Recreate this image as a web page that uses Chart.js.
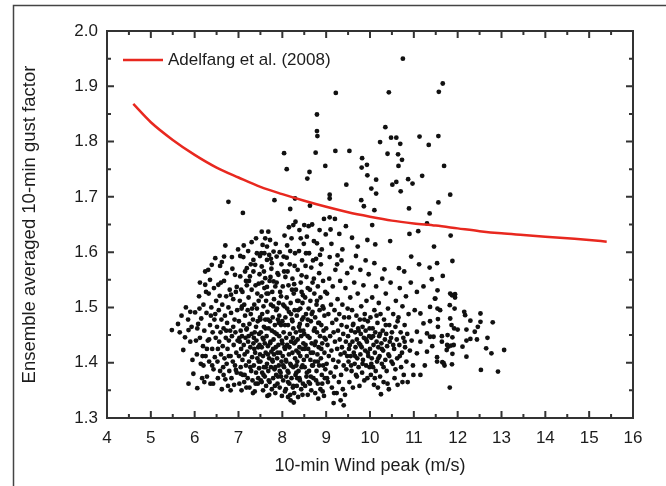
<!DOCTYPE html>
<html>
<head>
<meta charset="utf-8">
<script src="https://cdn.jsdelivr.net/npm/chart.js@4.4.0/dist/chart.umd.min.js"></script>
<style>
html, body { margin: 0; padding: 0; background: #fff; }
</style>
</head>
<body>
<canvas id="gust-chart" width="666" height="486"></canvas>
<script>
// axis ranges
var xMin = 4, xMax = 16
var yMin = 1.3, yMax = 2.0

// Adelfang et al. (2008) curve
var adelfangWind = [4.6, 5.0, 5.5, 6.0, 6.5, 7.0, 7.5, 8.0, 8.5, 9.0, 9.5, 10.0, 10.5, 11.0, 11.5, 12.0, 12.5, 13.0, 13.5, 14.0, 14.5, 15.0, 15.4]
var adelfangGust = [1.868, 1.835, 1.803, 1.776, 1.753, 1.735, 1.718, 1.705, 1.693, 1.682, 1.672, 1.664, 1.657, 1.652, 1.648, 1.643, 1.638, 1.634, 1.631, 1.628, 1.625, 1.622, 1.619]

// measured ensemble points [10-min wind peak, gust factor]
var ensemblePoints = [
    // 5.4 - 6.0
    [5.48,1.459],[5.74,1.423],[5.80,1.500],[5.90,1.492],[5.86,1.459],[5.86,1.362],[5.90,1.438],[5.62,1.470],[5.70,1.485],[5.95,1.405],[5.78,1.446],[5.93,1.465],[5.66,1.455],[5.97,1.380],[5.85,1.478],
    // 6.0 - 6.5
    [6.06,1.354],[6.01,1.491],[6.24,1.565],[6.31,1.568],[6.39,1.577],[6.47,1.589],[6.24,1.541],[6.05,1.415],[6.08,1.470],[6.10,1.520],[6.12,1.445],[6.14,1.398],[6.15,1.480],[6.17,1.372],[6.19,1.430],[6.20,1.505],[6.22,1.458],[6.25,1.412],[6.27,1.490],[6.28,1.375],[6.30,1.440],[6.32,1.525],[6.33,1.402],[6.35,1.468],[6.36,1.362],[6.38,1.500],[6.40,1.425],[6.41,1.455],[6.43,1.388],[6.44,1.535],[6.45,1.478],[6.46,1.410],[6.48,1.445],[6.49,1.512],[6.12,1.545],[6.20,1.395],[6.35,1.550],[6.28,1.425],[6.42,1.362],[6.03,1.440],
    [6.11,1.498],[6.18,1.412],[6.26,1.528],[6.33,1.442],[6.40,1.395],[6.47,1.488],[6.06,1.462],[6.22,1.365],[6.37,1.485],
    // 6.5 - 7.0
    [6.54,1.541],[6.67,1.592],[6.73,1.562],[6.85,1.591],[6.92,1.559],[6.96,1.537],[6.77,1.691],[6.51,1.465],[6.52,1.402],[6.53,1.372],[6.55,1.495],[6.56,1.438],[6.57,1.521],[6.58,1.385],[6.59,1.455],[6.60,1.415],[6.61,1.478],[6.62,1.352],[6.63,1.505],[6.64,1.430],[6.65,1.392],[6.66,1.462],[6.67,1.548],[6.68,1.408],[6.69,1.485],[6.70,1.370],[6.71,1.445],[6.72,1.520],[6.73,1.398],[6.74,1.472],[6.75,1.425],[6.76,1.358],[6.77,1.500],[6.78,1.440],[6.79,1.385],[6.80,1.532],[6.81,1.458],[6.82,1.412],[6.83,1.490],[6.84,1.372],[6.85,1.448],[6.86,1.570],[6.87,1.402],[6.88,1.515],[6.89,1.432],[6.90,1.360],[6.91,1.478],[6.92,1.395],[6.93,1.455],[6.94,1.528],[6.95,1.418],[6.96,1.382],[6.97,1.495],[6.98,1.440],[6.99,1.605],[6.58,1.575],[6.70,1.612],[6.82,1.350],[6.62,1.582],[6.88,1.465],
    [6.53,1.425],[6.60,1.545],[6.66,1.378],[6.72,1.458],[6.78,1.412],[6.83,1.523],[6.94,1.387],
    // 7.0 - 7.5
    [7.10,1.671],[7.04,1.593],[7.11,1.591],[7.34,1.586],[7.49,1.593],[7.42,1.598],[7.04,1.556],[7.19,1.571],[7.38,1.577],[7.34,1.565],[7.26,1.556],[7.46,1.543],[7.19,1.540],
    [7.01,1.412],[7.01,1.475],[7.02,1.362],[7.03,1.438],[7.03,1.512],[7.05,1.392],[7.05,1.458],[7.06,1.425],[7.07,1.498],[7.07,1.350],[7.08,1.448],[7.09,1.528],[7.09,1.405],[7.10,1.378],[7.11,1.468],[7.12,1.432],[7.13,1.505],[7.13,1.365],[7.14,1.415],[7.15,1.485],[7.16,1.445],[7.17,1.395],[7.17,1.548],[7.18,1.460],[7.20,1.420],[7.21,1.372],[7.21,1.495],[7.22,1.438],[7.23,1.518],[7.24,1.402],[7.25,1.470],[7.25,1.355],[7.27,1.428],[7.28,1.488],[7.29,1.385],[7.30,1.452],[7.30,1.532],[7.31,1.410],[7.32,1.368],[7.33,1.478],[7.34,1.435],[7.35,1.395],[7.36,1.505],[7.37,1.455],[7.37,1.348],[7.38,1.418],[7.39,1.540],[7.40,1.382],[7.40,1.465],[7.41,1.440],[7.42,1.498],[7.43,1.408],[7.44,1.362],[7.44,1.475],[7.45,1.428],[7.46,1.512],[7.47,1.390],[7.47,1.452],[7.48,1.560],[7.49,1.415],[7.49,1.482],[7.12,1.612],[7.22,1.602],[7.30,1.618],[7.15,1.565],[7.40,1.625],[7.28,1.578],[7.05,1.380],[7.18,1.355],[7.33,1.345],[7.45,1.372],[7.08,1.502],[7.23,1.448],[7.36,1.425],[7.48,1.432],
    [7.02,1.445],[7.06,1.532],[7.14,1.378],[7.19,1.462],[7.24,1.548],[7.27,1.392],[7.31,1.498],[7.35,1.445],[7.39,1.362],[7.43,1.525],[7.46,1.402],
    // 7.5 - 8.0
    [7.82,1.694],[7.53,1.637],[7.68,1.637],[7.61,1.625],[7.72,1.622],[7.55,1.613],[7.65,1.610],[7.80,1.601],[7.53,1.574],[7.65,1.586],[7.76,1.580],[7.87,1.592],[7.61,1.553],[7.80,1.547],[7.91,1.559],[7.65,1.537],
    [7.50,1.402],[7.51,1.455],[7.51,1.368],[7.52,1.520],[7.53,1.428],[7.54,1.382],[7.54,1.488],[7.55,1.445],[7.56,1.350],[7.56,1.412],[7.57,1.502],[7.58,1.465],[7.58,1.392],[7.59,1.535],[7.60,1.435],[7.60,1.375],[7.61,1.478],[7.62,1.418],[7.63,1.512],[7.63,1.358],[7.64,1.448],[7.65,1.398],[7.66,1.492],[7.66,1.340],[7.67,1.430],[7.68,1.525],[7.68,1.385],[7.69,1.462],[7.70,1.408],[7.71,1.548],[7.71,1.365],[7.72,1.475],[7.73,1.438],[7.74,1.392],[7.74,1.505],[7.75,1.420],[7.76,1.352],[7.76,1.458],[7.77,1.528],[7.78,1.402],[7.78,1.482],[7.79,1.372],[7.80,1.442],[7.81,1.515],[7.81,1.415],[7.82,1.388],[7.83,1.468],[7.84,1.345],[7.84,1.538],[7.85,1.428],[7.86,1.495],[7.86,1.378],[7.87,1.452],[7.88,1.408],[7.89,1.562],[7.89,1.362],[7.90,1.478],[7.91,1.432],[7.92,1.395],[7.92,1.508],[7.93,1.448],[7.94,1.355],[7.95,1.418],[7.95,1.528],[7.96,1.382],[7.97,1.468],[7.98,1.402],[7.98,1.578],[7.99,1.440],[7.99,1.340],[7.52,1.598],[7.58,1.565],[7.70,1.595],[7.75,1.570],[7.85,1.615],[7.94,1.600],[7.62,1.462],[7.70,1.342],[7.79,1.425],[7.88,1.498],[7.97,1.375],[7.57,1.378],[7.67,1.415],[7.83,1.358],[7.93,1.485],[7.54,1.545],[7.73,1.555],[7.90,1.375],
    [7.50,1.478],[7.53,1.365],[7.57,1.442],[7.59,1.598],[7.62,1.392],[7.64,1.525],[7.67,1.478],[7.69,1.368],[7.72,1.435],[7.74,1.588],[7.77,1.405],[7.79,1.502],[7.82,1.455],[7.84,1.392],[7.87,1.545],[7.89,1.418],[7.92,1.472],[7.94,1.385],[7.97,1.520],
    // 8.0 - 8.5
    [8.04,1.779],[8.10,1.750],[8.29,1.697],[8.18,1.678],[8.25,1.649],
    [8.00,1.475],[8.01,1.412],[8.01,1.538],[8.02,1.368],[8.03,1.455],[8.03,1.592],[8.04,1.392],[8.05,1.502],[8.05,1.428],[8.06,1.348],[8.07,1.482],[8.07,1.555],[8.08,1.405],[8.09,1.445],[8.09,1.375],[8.10,1.518],[8.11,1.432],[8.11,1.612],[8.12,1.385],[8.13,1.468],[8.13,1.338],[8.14,1.540],[8.15,1.415],[8.15,1.492],[8.16,1.362],[8.17,1.452],[8.17,1.578],[8.18,1.398],[8.19,1.508],[8.19,1.332],[8.20,1.438],[8.21,1.372],[8.21,1.625],[8.22,1.478],[8.23,1.418],[8.23,1.552],[8.24,1.355],[8.25,1.462],[8.25,1.392],[8.26,1.525],[8.27,1.435],[8.27,1.345],[8.28,1.495],[8.29,1.408],[8.29,1.598],[8.30,1.378],[8.31,1.455],[8.31,1.532],[8.32,1.422],[8.33,1.358],[8.33,1.485],[8.34,1.402],[8.35,1.568],[8.35,1.442],[8.36,1.338],[8.37,1.512],[8.37,1.385],[8.38,1.465],[8.39,1.428],[8.39,1.640],[8.40,1.368],[8.41,1.498],[8.41,1.412],[8.42,1.545],[8.43,1.448],[8.43,1.352],[8.44,1.392],[8.45,1.478],[8.45,1.585],[8.46,1.425],[8.47,1.362],[8.47,1.522],[8.48,1.458],[8.49,1.405],[8.49,1.615],[8.05,1.630],[8.15,1.645],[8.30,1.655],[8.42,1.625],[8.12,1.565],[8.28,1.575],[8.44,1.558],[8.08,1.352],[8.18,1.342],[8.26,1.328],[8.34,1.372],[8.46,1.342],[8.02,1.505],[8.20,1.488],[8.36,1.495],[8.48,1.435],[8.06,1.425],[8.24,1.445],[8.40,1.470],[8.14,1.382],[8.32,1.395],[8.10,1.590],[8.38,1.602],[8.22,1.532],[8.46,1.508],
    [8.00,1.435],[8.02,1.395],[8.04,1.565],[8.06,1.468],[8.09,1.402],[8.11,1.498],[8.13,1.365],[8.16,1.428],[8.18,1.602],[8.20,1.395],[8.23,1.475],[8.25,1.358],[8.27,1.542],[8.30,1.438],[8.32,1.382],[8.34,1.512],[8.37,1.418],[8.39,1.372],[8.41,1.458],[8.44,1.528],[8.46,1.395],[8.48,1.482],
    // 8.5 - 9.0
    [8.62,1.745],[8.57,1.733],[8.76,1.780],[8.98,1.756],[8.79,1.849],[8.79,1.819],[8.80,1.810],[8.63,1.684],[8.50,1.649],[8.60,1.647],[8.79,1.616],
    [8.50,1.452],[8.51,1.392],[8.52,1.518],[8.52,1.358],[8.53,1.432],[8.54,1.488],[8.55,1.375],[8.55,1.555],[8.56,1.412],[8.57,1.468],[8.58,1.342],[8.58,1.535],[8.59,1.425],[8.60,1.498],[8.61,1.385],[8.61,1.598],[8.62,1.445],[8.63,1.362],[8.64,1.512],[8.64,1.405],[8.65,1.475],[8.66,1.572],[8.66,1.350],[8.67,1.435],[8.68,1.395],[8.69,1.492],[8.69,1.545],[8.70,1.418],[8.71,1.372],[8.72,1.458],[8.72,1.620],[8.73,1.525],[8.74,1.402],[8.75,1.345],[8.75,1.482],[8.76,1.438],[8.77,1.588],[8.78,1.385],[8.78,1.505],[8.79,1.455],[8.80,1.415],[8.81,1.362],[8.81,1.538],[8.82,1.472],[8.83,1.428],[8.84,1.395],[8.84,1.562],[8.85,1.495],[8.86,1.448],[8.87,1.352],[8.87,1.518],[8.88,1.408],[8.89,1.468],[8.90,1.378],[8.90,1.605],[8.91,1.435],[8.92,1.502],[8.93,1.395],[8.93,1.548],[8.94,1.458],[8.95,1.340],[8.96,1.418],[8.96,1.485],[8.97,1.372],[8.98,1.528],[8.99,1.442],[8.99,1.632],[8.56,1.628],[8.68,1.650],[8.85,1.640],[8.95,1.660],[8.54,1.598],[8.70,1.585],[8.88,1.578],[8.65,1.375],[8.82,1.335],[8.92,1.348],[8.58,1.478],[8.74,1.462],
    [8.51,1.425],[8.53,1.575],[8.56,1.382],[8.58,1.448],[8.60,1.365],[8.63,1.532],[8.65,1.418],[8.67,1.488],[8.70,1.395],[8.72,1.552],[8.74,1.432],[8.77,1.368],[8.79,1.512],[8.81,1.402],[8.84,1.472],[8.86,1.595],[8.89,1.425],[8.91,1.362],[8.94,1.498],[8.96,1.445],[8.98,1.388],
    // 9.0 - 9.5
    [9.21,1.783],[9.22,1.888],[9.08,1.704],[9.08,1.697],[9.08,1.663],[9.20,1.660],[9.46,1.722],[9.45,1.647],[9.10,1.641],[9.30,1.633],[9.37,1.605],[9.26,1.594],[9.08,1.591],[9.17,1.327],[9.40,1.323],
    [9.00,1.462],[9.01,1.398],[9.02,1.525],[9.03,1.432],[9.04,1.365],[9.05,1.488],[9.06,1.412],[9.07,1.552],[9.09,1.448],[9.10,1.382],[9.11,1.505],[9.12,1.422],[9.13,1.355],[9.14,1.472],[9.15,1.538],[9.16,1.405],[9.17,1.455],[9.18,1.375],[9.19,1.495],[9.20,1.438],[9.21,1.568],[9.22,1.392],[9.23,1.478],[9.24,1.345],[9.25,1.425],[9.26,1.515],[9.27,1.458],[9.28,1.402],[9.29,1.365],[9.30,1.488],[9.31,1.442],[9.32,1.548],[9.33,1.415],[9.34,1.378],[9.35,1.468],[9.36,1.428],[9.37,1.505],[9.38,1.352],[9.39,1.452],[9.40,1.395],[9.41,1.482],[9.42,1.418],[9.43,1.342],[9.44,1.535],[9.45,1.438],[9.46,1.388],[9.47,1.465],[9.48,1.412],[9.49,1.498],[9.12,1.615],[9.25,1.578],[9.35,1.585],[9.48,1.562],[9.18,1.345],[9.33,1.332],[9.02,1.372],
    // 9.5 - 10.0
    [9.53,1.783],[9.82,1.770],[9.93,1.758],[9.81,1.753],[9.94,1.739],[9.80,1.694],[9.86,1.683],[9.59,1.626],[9.94,1.622],[9.72,1.610],[9.68,1.593],
    [9.50,1.448],[9.51,1.402],[9.52,1.482],[9.53,1.365],[9.54,1.432],[9.55,1.518],[9.56,1.412],[9.57,1.458],[9.58,1.385],[9.59,1.495],[9.60,1.438],[9.61,1.355],[9.62,1.470],[9.63,1.418],[9.64,1.545],[9.65,1.398],[9.66,1.455],[9.67,1.428],[9.68,1.378],[9.69,1.485],[9.70,1.442],[9.71,1.408],[9.72,1.525],[9.73,1.462],[9.74,1.392],[9.75,1.435],[9.76,1.358],[9.77,1.478],[9.78,1.415],[9.79,1.452],[9.80,1.502],[9.81,1.428],[9.82,1.382],[9.83,1.465],[9.84,1.405],[9.85,1.540],[9.86,1.445],[9.87,1.368],[9.88,1.488],[9.89,1.422],[9.90,1.458],[9.91,1.395],[9.92,1.512],[9.93,1.438],[9.94,1.372],[9.95,1.475],[9.96,1.412],[9.97,1.560],[9.98,1.448],[9.99,1.392],[9.58,1.572],[9.78,1.568],[9.90,1.585],
    [9.52,1.425],[9.57,1.395],[9.61,1.468],[9.66,1.412],[9.70,1.375],[9.74,1.458],[9.78,1.432],[9.83,1.398],[9.87,1.478],[9.91,1.442],[9.95,1.418],[9.99,1.462],
    // 10.0 - 10.5
    [10.23,1.799],[10.35,1.826],[10.43,1.889],[10.40,1.778],[10.48,1.807],[10.14,1.731],[10.03,1.715],[10.14,1.706],[10.10,1.676],[10.05,1.649],[10.46,1.620],[10.12,1.614],[10.10,1.580],[10.33,1.569],[10.25,1.343],
    [10.00,1.425],[10.01,1.482],[10.02,1.378],[10.03,1.445],[10.04,1.408],[10.05,1.518],[10.06,1.462],[10.07,1.392],[10.08,1.432],[10.09,1.360],[10.10,1.495],[10.11,1.418],[10.12,1.455],[10.13,1.385],[10.14,1.538],[10.15,1.438],[10.16,1.402],[10.17,1.472],[10.18,1.355],[10.19,1.428],[10.20,1.508],[10.21,1.448],[10.22,1.412],[10.23,1.375],[10.24,1.488],[10.26,1.435],[10.27,1.398],[10.28,1.552],[10.29,1.458],[10.30,1.422],[10.31,1.365],[10.32,1.478],[10.34,1.442],[10.35,1.405],[10.36,1.525],[10.37,1.452],[10.38,1.385],[10.39,1.430],[10.41,1.498],[10.42,1.415],[10.43,1.352],[10.44,1.468],[10.45,1.438],[10.47,1.545],[10.49,1.402],
    [10.03,1.398],[10.07,1.448],[10.11,1.372],[10.15,1.485],[10.19,1.408],[10.23,1.452],[10.27,1.425],[10.31,1.392],[10.36,1.468],[10.40,1.362],[10.44,1.412],[10.48,1.445],
    // 10.5 - 11.0
    [10.75,1.950],[10.60,1.807],[10.69,1.796],[10.64,1.777],[10.73,1.767],[10.65,1.756],[10.87,1.732],[10.97,1.724],[10.60,1.727],[10.51,1.722],[10.70,1.710],[10.89,1.679],[10.90,1.633],[10.66,1.571],[10.78,1.565],[10.94,1.592],
    [10.50,1.455],[10.52,1.398],[10.53,1.488],[10.55,1.425],[10.56,1.372],[10.58,1.465],[10.59,1.512],[10.61,1.442],[10.62,1.408],[10.63,1.360],[10.65,1.482],[10.67,1.432],[10.68,1.535],[10.70,1.455],[10.71,1.392],[10.73,1.418],[10.74,1.502],[10.76,1.445],[10.77,1.378],[10.79,1.468],[10.80,1.428],[10.82,1.520],[10.83,1.402],[10.85,1.452],[10.86,1.365],[10.88,1.488],[10.91,1.422],[10.93,1.545],[10.95,1.440],[10.98,1.395],
    [10.53,1.432],[10.58,1.388],[10.63,1.475],[10.68,1.412],[10.74,1.365],[10.79,1.438],
    // 11.0 - 11.5
    [11.13,1.809],[11.34,1.794],[11.19,1.738],[11.36,1.670],[11.30,1.652],[11.10,1.638],[11.46,1.610],[11.12,1.578],[11.36,1.572],[11.07,1.528],[11.22,1.538],[11.49,1.516],[11.37,1.501],[11.15,1.489],[11.22,1.471],[11.07,1.456],[11.30,1.453],[11.45,1.447],[11.15,1.438],[11.30,1.420],[11.07,1.417],[11.41,1.551],[11.48,1.516],[11.37,1.475],[11.37,1.447],[10.99,1.378],[11.15,1.378],[11.02,1.495],[11.25,1.395],[11.42,1.430],
    // 11.5 - 12.0
    [11.66,1.905],[11.57,1.890],[11.56,1.810],[11.69,1.756],[11.83,1.704],[11.56,1.690],[11.84,1.630],[11.88,1.584],[11.53,1.580],[11.66,1.557],[11.54,1.531],[11.83,1.525],[11.94,1.524],[11.94,1.518],[11.54,1.498],[11.82,1.504],[11.93,1.498],[11.55,1.479],[11.55,1.465],[11.83,1.480],[11.86,1.468],[11.92,1.462],[12.00,1.460],[11.64,1.448],[11.77,1.450],[11.88,1.446],[11.79,1.429],[11.85,1.431],[11.91,1.432],[11.75,1.423],[11.88,1.416],[11.53,1.410],[11.65,1.401],[11.70,1.395],[11.87,1.397],[11.82,1.355],[11.60,1.495],[11.87,1.522],[11.64,1.438],[11.76,1.432],[11.53,1.402],[11.68,1.399],
    // 12.0 - 13.1
    [12.15,1.492],[12.17,1.486],[12.52,1.489],[12.29,1.476],[12.52,1.474],[12.46,1.465],[12.80,1.473],[12.20,1.460],[12.39,1.456],[12.29,1.443],[12.44,1.442],[12.68,1.445],[12.20,1.440],[12.11,1.429],[12.65,1.426],[12.77,1.417],[13.06,1.423],[12.20,1.411],[12.53,1.387],[12.92,1.384]
]

var xTickValues = [4, 5, 6, 7, 8, 9, 10, 11, 12, 13, 14, 15, 16]
var yTickValues = [1.3, 1.4, 1.5, 1.6, 1.7, 1.8, 1.9, 2.0]

var textColor = '#1c1c1c'
var fontFamily = "'Liberation Sans', Arial, sans-serif"

// frame, inward ticks on all four sides, outer box of the figure, legend
var framePlugin = {
    id: 'frame',
    beforeDraw(chart) {
        const ctx = chart.ctx
        ctx.save()
        ctx.strokeStyle = '#444444'
        ctx.lineWidth = 1.5
        ctx.beginPath()
        ctx.moveTo(13.5, chart.height)
        ctx.lineTo(13.5, 5.5)
        ctx.lineTo(chart.width, 5.5)
        ctx.stroke()
        ctx.restore()
    },
    afterDraw(chart) {
        const ctx = chart.ctx
        const a = chart.chartArea
        const xs = chart.scales.x
        const ys = chart.scales.y
        ctx.save()
        ctx.strokeStyle = '#333333'
        ctx.lineWidth = 2
        ctx.beginPath()
        for (let i = 0; i < xTickValues.length; i++) {
            const px = xs.getPixelForValue(xTickValues[i])
            ctx.moveTo(px, a.bottom); ctx.lineTo(px, a.bottom - 7)
            ctx.moveTo(px, a.top); ctx.lineTo(px, a.top + 7)
            if (i < xTickValues.length - 1) {
                const pm = xs.getPixelForValue((xTickValues[i] + xTickValues[i + 1]) / 2)
                ctx.moveTo(pm, a.bottom); ctx.lineTo(pm, a.bottom - 4)
                ctx.moveTo(pm, a.top); ctx.lineTo(pm, a.top + 4)
            }
        }
        for (let i = 0; i < yTickValues.length; i++) {
            const py = ys.getPixelForValue(yTickValues[i])
            ctx.moveTo(a.left, py); ctx.lineTo(a.left + 7, py)
            ctx.moveTo(a.right, py); ctx.lineTo(a.right - 7, py)
            if (i < yTickValues.length - 1) {
                const pm = ys.getPixelForValue((yTickValues[i] + yTickValues[i + 1]) / 2)
                ctx.moveTo(a.left, pm); ctx.lineTo(a.left + 4, pm)
                ctx.moveTo(a.right, pm); ctx.lineTo(a.right - 4, pm)
            }
        }
        ctx.stroke()
        ctx.strokeRect(a.left, a.top, a.right - a.left, a.bottom - a.top)

        // legend entry for the red curve, top left inside the frame
        const ds = chart.data.datasets[0]
        const ly = a.top + 29
        ctx.strokeStyle = ds.borderColor
        ctx.lineWidth = ds.borderWidth
        ctx.beginPath()
        ctx.moveTo(a.left + 16, ly)
        ctx.lineTo(a.left + 56, ly)
        ctx.stroke()
        ctx.fillStyle = textColor
        ctx.font = '17px ' + fontFamily
        ctx.textBaseline = 'middle'
        ctx.textAlign = 'left'
        ctx.fillText(ds.label, a.left + 61, ly)
        ctx.restore()
    }
}

var gustChart
function setupChart() {
    const ctx = document.getElementById('gust-chart').getContext('2d')
    gustChart = new Chart(ctx, {
        type: 'scatter',
        plugins: [framePlugin],
        data: {
            datasets: [
                {
                    type: 'line',
                    label: 'Adelfang et al. (2008)',
                    data: adelfangWind.map((w, i) => ({ x: w, y: adelfangGust[i] })),
                    borderColor: '#e8281f',
                    backgroundColor: '#e8281f',
                    borderWidth: 2.5,
                    pointRadius: 0,
                    cubicInterpolationMode: 'monotone',
                    fill: false
                },
                {
                    label: 'ensemble',
                    data: ensemblePoints.map(p => ({ x: p[0], y: p[1] })),
                    backgroundColor: '#111111',
                    borderWidth: 0,
                    pointRadius: 2.4
                }
            ]
        },
        options: {
            responsive: false,
            animation: false,
            devicePixelRatio: 1,
            layout: {
                padding: { left: 19, right: 33, top: 31, bottom: 9 }
            },
            plugins: {
                tooltip: { enabled: false },
                legend: { display: false }
            },
            scales: {
                x: {
                    type: 'linear',
                    min: xMin,
                    max: xMax,
                    afterFit: (scale) => { scale.height = 59 },
                    afterBuildTicks: (scale) => { scale.ticks = xTickValues.map(v => ({ value: v })) },
                    grid: { display: false, drawTicks: false },
                    border: { display: false },
                    ticks: {
                        padding: 10,
                        color: textColor,
                        maxRotation: 0,
                        font: { family: fontFamily, size: 17 }
                    },
                    title: {
                        display: true,
                        text: '10-min Wind peak (m/s)',
                        color: textColor,
                        padding: 0,
                        font: { family: fontFamily, size: 18 }
                    }
                },
                y: {
                    type: 'linear',
                    min: yMin,
                    max: yMax,
                    afterFit: (scale) => { scale.width = 88 },
                    afterBuildTicks: (scale) => { scale.ticks = yTickValues.map(v => ({ value: v })) },
                    grid: { display: false, drawTicks: false },
                    border: { display: false },
                    ticks: {
                        padding: 9,
                        color: textColor,
                        font: { family: fontFamily, size: 17 },
                        callback: (v) => Number(v).toFixed(1)
                    },
                    title: {
                        display: true,
                        text: 'Ensemble averaged 10-min gust factor',
                        color: textColor,
                        padding: 0,
                        font: { family: fontFamily, size: 18.5 }
                    }
                }
            }
        }
    })
}

setupChart()
</script>
</body>
</html>
